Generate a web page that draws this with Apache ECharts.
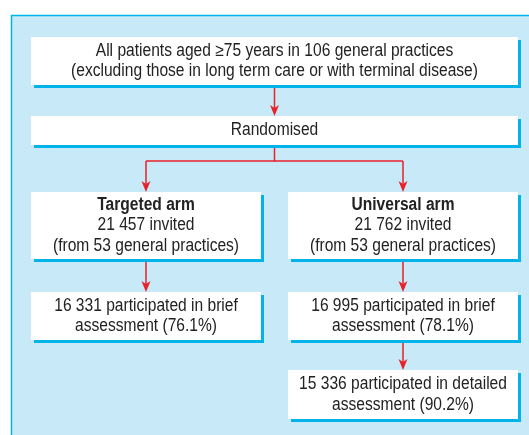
<!DOCTYPE html>
<html>
<head>
<meta charset="utf-8">
<script src="https://cdn.jsdelivr.net/npm/echarts@6/dist/echarts.min.js"></script>
<style>
  html, body { margin: 0; padding: 0; background: #fff; }
  #chart { width: 529px; height: 435px; }
</style>
</head>
<body>
<div id="chart"></div>
<script>
// box texts (first entry of arms is the bold title)
const topText = ['All patients aged \u226575 years in 106 general practices', '(excluding those in long term care or with terminal disease)'];
const randText = ['Randomised'];
const targetedText = ['Targeted arm', '21 457 invited', '(from 53 general practices)'];
const universalText = ['Universal arm', '21 762 invited', '(from 53 general practices)'];
const targetedBrief = ['16 331 participated in brief', 'assessment (76.1%)'];
const universalBrief = ['16 995 participated in brief', 'assessment (78.1%)'];
const universalDetailed = ['15 336 participated in detailed', 'assessment (90.2%)'];

// layout [x, y, w, h]
const layout = {
  top: [31, 37, 487, 48],
  rand: [31, 116, 487, 29],
  targeted: [31, 192, 230, 67],
  universal: [288, 192, 230, 67],
  tBrief: [31, 292, 230, 48],
  uBrief: [288, 292, 230, 48],
  uDetailed: [288, 370, 230, 49]
};

const FONT = "'Liberation Sans', Arial, sans-serif";
const RED = '#e8212b';
const CYAN = '#00b4ea';

const chart = echarts.init(document.getElementById('chart'));
const els = [];

// background panel
els.push({
  type: 'rect',
  shape: { x: 11.5, y: 15.5, width: 540, height: 440 },
  style: { fill: '#c8eaf8', stroke: CYAN, lineWidth: 1.5 }
});

function box(key, lines, boldFirst) {
  const [x, y, w, h] = layout[key];
  els.push({ type: 'rect', shape: { x: x + 3, y: y + 3, width: w, height: h }, style: { fill: CYAN } });
  els.push({ type: 'rect', shape: { x: x, y: y, width: w, height: h }, style: { fill: '#fff' } });
  const lh = 20.5;
  const cy = y + h / 2;
  lines.forEach((t, i) => {
    els.push({
      type: 'text',
      x: x + w / 2,
      y: cy + (i - (lines.length - 1) / 2) * lh,
      scaleX: 0.89,
      style: {
        text: t,
        fill: '#222',
        font: (boldFirst && i === 0 ? 'bold ' : '') + '17.5px ' + FONT,
        textAlign: 'center',
        textVerticalAlign: 'middle'
      }
    });
  });
}

function line(points) {
  els.push({ type: 'polyline', shape: { points: points }, style: { stroke: RED, lineWidth: 1.5, fill: null } });
}

function arrow(x, y1, y2) {
  line([[x, y1], [x, y2 - 6]]);
  els.push({
    type: 'polygon',
    shape: { points: [[x, y2], [x - 4.5, y2 - 11], [x, y2 - 8], [x + 4.5, y2 - 11]] },
    style: { fill: RED }
  });
}

box('top', topText);
box('rand', randText);
box('targeted', targetedText, true);
box('universal', universalText, true);
box('tBrief', targetedBrief);
box('uBrief', universalBrief);
box('uDetailed', universalDetailed);

arrow(274.5, 88, 116);
line([[274.5, 148], [274.5, 161], [146, 161]]);
line([[274.5, 161], [403, 161]]);
arrow(146, 161, 192);
arrow(403, 161, 192);
arrow(146, 262, 292);
arrow(403, 262, 292);
arrow(403, 343, 370);

chart.setOption({ animation: false, graphic: { elements: els } });
</script>
</body>
</html>
